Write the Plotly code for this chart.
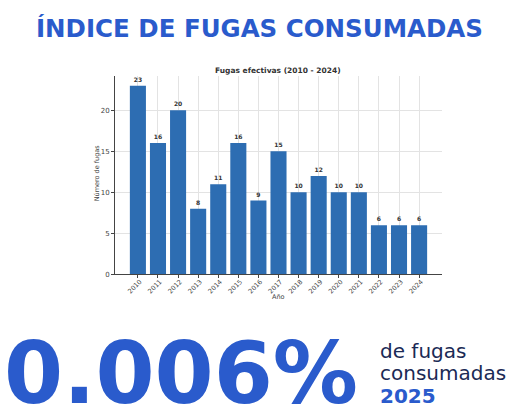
import plotly.graph_objects as go

# data
years = ['2010', '2011', '2012', '2013', '2014', '2015', '2016', '2017',
         '2018', '2019', '2020', '2021', '2022', '2023', '2024']
fugas = [23, 16, 20, 8, 11, 16, 9, 15, 10, 12, 10, 10, 6, 6, 6]
y_ticks = [0, 5, 10, 15, 20]

BLUE = '#2a5bcc'
BAR = '#2d6db2'
FONT = 'DejaVu Sans, Verdana, sans-serif'

fig = go.Figure()

fig.add_trace(go.Bar(
    x=years, y=fugas,
    marker=dict(color=BAR, line=dict(width=0)),
    width=0.8,
    text=[str(v) for v in fugas],
    textposition='outside',
    textfont=dict(family=FONT, size=6, color='#333333'),
    texttemplate='<b>%{text}</b>',
    cliponaxis=False,
    hoverinfo='x+y',
))

fig.update_layout(
    width=521, height=420,
    margin=dict(l=0, r=0, t=0, b=0),
    paper_bgcolor='white', plot_bgcolor='white',
    showlegend=False,
    bargap=0.2,
    font=dict(family=FONT),
    xaxis=dict(
        domain=[115 / 521, 442 / 521],
        type='category',
        range=[-1.14, 15.14],
        showgrid=True, gridcolor='#e3e3e3', gridwidth=0.6,
        showline=True, linecolor='#444444', linewidth=1,
        ticks='outside', ticklen=3, tickcolor='#444444',
        tickangle=-45,
        ticklabelshift=2,
        ticklabelstandoff=-3,
        tickfont=dict(family=FONT, size=6.5, color='#444444'),
        fixedrange=True,
    ),
    yaxis=dict(
        domain=[(420 - 277) / 420, (420 - 77) / 420],
        range=[0, 24.15],
        tickvals=y_ticks,
        showgrid=True, gridcolor='#e3e3e3', gridwidth=0.6,
        zeroline=False,
        showline=True, linecolor='#444444', linewidth=1,
        ticks='outside', ticklen=3, tickcolor='#444444',
        tickfont=dict(family=FONT, size=7, color='#444444'),
        fixedrange=True,
    ),
)

# headline
fig.add_annotation(
    text='<b>ÍNDICE DE FUGAS CONSUMADAS</b>',
    x=259 / 521, y=1 - 29 / 420, xref='paper', yref='paper',
    xanchor='center', yanchor='middle', showarrow=False,
    font=dict(family=FONT, size=24.5, color=BLUE),
)

# chart title and axis titles
fig.add_annotation(
    text='<b>Fugas efectivas (2010 - 2024)</b>',
    x=278 / 521, y=1 - 71 / 420, xref='paper', yref='paper',
    xanchor='center', yanchor='middle', showarrow=False,
    font=dict(family=FONT, size=7.5, color='#333333'),
)
fig.add_annotation(
    text='Año',
    x=278 / 521, y=1 - 300 / 420, xref='paper', yref='paper',
    xanchor='center', yanchor='middle', showarrow=False,
    font=dict(family=FONT, size=6.5, color='#444444'),
)
fig.add_annotation(
    text='Número de fugas',
    x=97 / 521, y=1 - 175 / 420, xref='paper', yref='paper',
    xanchor='center', yanchor='middle', showarrow=False, textangle=-90,
    font=dict(family=FONT, size=6.5, color='#444444'),
)

# big figure at the bottom
fig.add_annotation(
    text='<b>0.006%</b>',
    x=2 / 521, y=1 - 377 / 420, xref='paper', yref='paper',
    xanchor='left', yanchor='middle', showarrow=False,
    font=dict(family=FONT, size=85, color=BLUE),
)
fig.add_annotation(
    text='de fugas',
    x=378 / 521, y=1 - 354 / 420, xref='paper', yref='paper',
    xanchor='left', yanchor='middle', showarrow=False,
    font=dict(family=FONT, size=20, color='#1b2a55'),
)
fig.add_annotation(
    text='consumadas',
    x=378 / 521, y=1 - 377 / 420, xref='paper', yref='paper',
    xanchor='left', yanchor='middle', showarrow=False,
    font=dict(family=FONT, size=20, color='#1b2a55'),
)
fig.add_annotation(
    text='<b>2025</b>',
    x=378 / 521, y=1 - 400 / 420, xref='paper', yref='paper',
    xanchor='left', yanchor='middle', showarrow=False,
    font=dict(family=FONT, size=20, color=BLUE),
)

# drop the page's default body margin so the figure sits at the window edge
fig.write_html('out.html', config={'displayModeBar': False},
               post_script="document.body.style.margin='0';")
